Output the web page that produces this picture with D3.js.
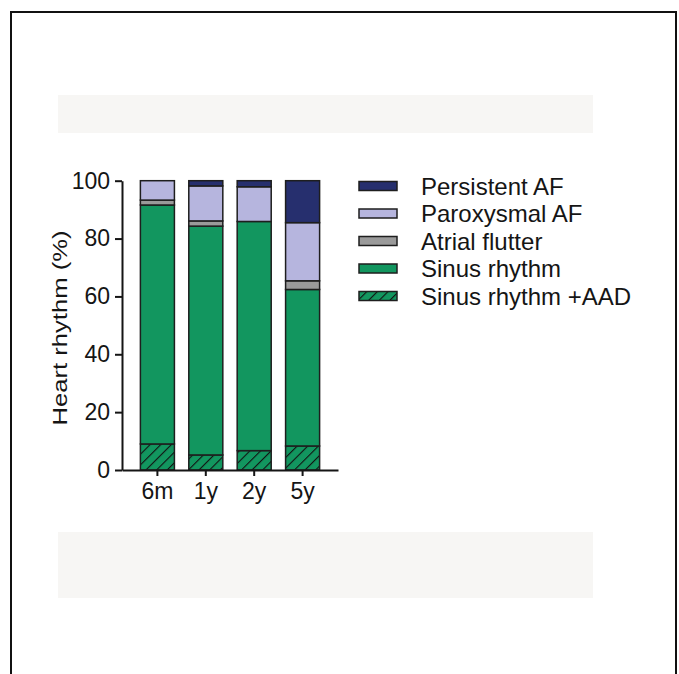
<!DOCTYPE html>
<html>
<head>
<meta charset="utf-8">
<script src="https://cdn.jsdelivr.net/npm/d3@7"></script>
<style>
  html, body { margin: 0; padding: 0; background: #ffffff; }
  svg { display: block; }
  text { font-family: "Liberation Sans", Arial, Helvetica, sans-serif; fill: #151515; }
</style>
</head>
<body>
<svg id="chart" width="679" height="674"></svg>
<script>
// ---- Data ----
const categories = ["6m", "1y", "2y", "5y"];
const sinusAAD   = [9.0, 5.2, 6.7, 8.3];
const sinus      = [82.6, 79.1, 79.2, 54.1];
const flutter    = [1.7, 1.8, 0.0, 3.0];
const paroxysmal = [6.7, 12.1, 12.0, 20.1];
const persistent = [0.0, 1.8, 2.1, 14.5];
const yTicks     = [0, 20, 40, 60, 80, 100];

const seriesNames = ["Sinus rhythm +AAD", "Sinus rhythm", "Atrial flutter", "Paroxysmal AF", "Persistent AF"];
const seriesValues = [sinusAAD, sinus, flutter, paroxysmal, persistent];
const seriesColors = ["#12965f", "#12965f", "#9a9a9a", "#b6b5de", "#262f6e"];
const legendOrder = ["Persistent AF", "Paroxysmal AF", "Atrial flutter", "Sinus rhythm", "Sinus rhythm +AAD"];

const rows = categories.map((c, i) => {
  const r = { cat: c };
  seriesNames.forEach((s, k) => r[s] = seriesValues[k][i]);
  return r;
});

const svg = d3.select("#chart");

// frame and faint grey boxes
svg.append("rect").attr("x", 11).attr("y", 12).attr("width", 665).attr("height", 680)
  .attr("fill", "none").attr("stroke", "#111").attr("stroke-width", 2);
svg.append("rect").attr("x", 58).attr("y", 95).attr("width", 535).attr("height", 38).attr("fill", "#f7f6f4");
svg.append("rect").attr("x", 58).attr("y", 532).attr("width", 535).attr("height", 66).attr("fill", "#f7f6f4");

// hatch pattern
const defs = svg.append("defs");
const pat = defs.append("pattern").attr("id", "hatch").attr("patternUnits", "userSpaceOnUse")
  .attr("width", 7.5).attr("height", 7.5).attr("patternTransform", "rotate(45)");
pat.append("rect").attr("width", 7.5).attr("height", 7.5).attr("fill", "#12965f");
pat.append("line").attr("x1", 0).attr("y1", 0).attr("x2", 0).attr("y2", 7.5)
  .attr("stroke", "#111").attr("stroke-width", 2.2);

const x = d3.scaleBand().domain(categories).range([122, 338]).paddingInner(0.297).paddingOuter(0.38);
const y = d3.scaleLinear().domain([0, 100]).range([470, 180.7]);

const stack = d3.stack().keys(seriesNames);
const stacked = stack(rows);

const fillFor = (k) => k === 0 ? "url(#hatch)" : seriesColors[k];

svg.append("g").selectAll("g").data(stacked).join("g")
  .attr("fill", (d, k) => fillFor(k))
  .selectAll("rect").data(d => d).join("rect")
  .attr("x", d => x(d.data.cat))
  .attr("width", x.bandwidth())
  .attr("y", d => y(d[1]))
  .attr("height", d => y(d[0]) - y(d[1]))
  .attr("stroke", "#1e1e1e").attr("stroke-width", 1.5);

// axes
const yAxis = svg.append("g").attr("transform", "translate(122,0)")
  .call(d3.axisLeft(y).tickValues(yTicks).tickSize(7).tickPadding(5).tickSizeOuter(0));
const xAxis = svg.append("g").attr("transform", "translate(0,470)")
  .call(d3.axisBottom(x).tickSize(6).tickPadding(7).tickSizeOuter(0));
[yAxis, xAxis].forEach(a => {
  a.select(".domain").attr("stroke", "#151515").attr("stroke-width", 2);
  a.selectAll(".tick line").attr("stroke", "#151515").attr("stroke-width", 2);
  a.selectAll("text").attr("font-size", 23).attr("font-family", "Liberation Sans, Arial, sans-serif").attr("fill", "#151515");
});

// y title
svg.append("text").attr("transform", "translate(67,328) rotate(-90)")
  .attr("text-anchor", "middle").attr("font-size", 21)
  .attr("textLength", 195).attr("lengthAdjust", "spacingAndGlyphs")
  .text("Heart rhythm (%)");

// legend
const leg = svg.append("g");
const legY = d3.scalePoint().domain(legendOrder).range([186, 296]);
legendOrder.forEach(name => {
  const k = seriesNames.indexOf(name);
  leg.append("rect").attr("x", 359).attr("y", legY(name) - 4.5).attr("width", 38).attr("height", 9)
    .attr("fill", fillFor(k)).attr("stroke", "#1e1e1e").attr("stroke-width", 1.5);
  leg.append("text").attr("x", 421).attr("y", legY(name)).attr("dy", "0.36em")
    .attr("font-size", 24).text(name);
});
</script>
</body>
</html>
